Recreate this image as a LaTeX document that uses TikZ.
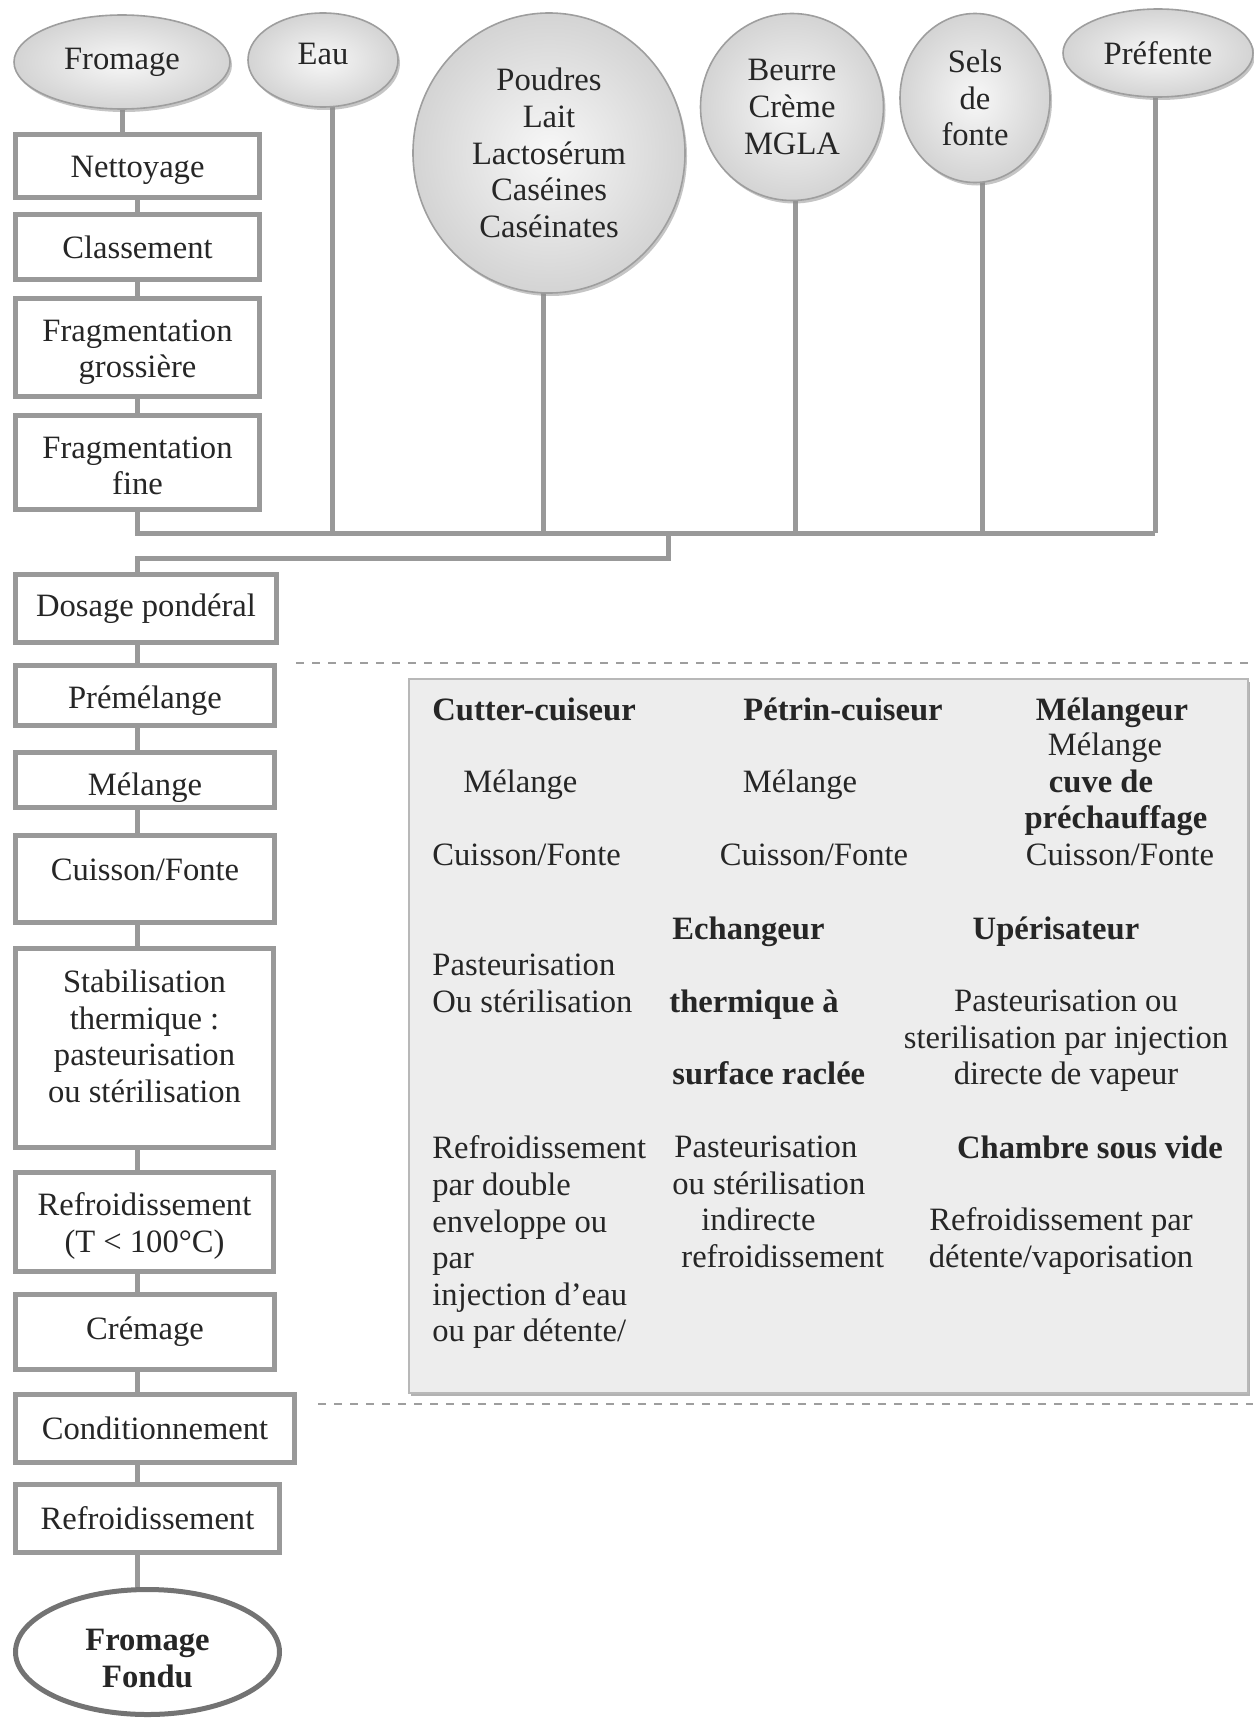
\documentclass[tikz,border=0pt]{standalone}
\usepackage{fontspec}
\setmainfont{Liberation Serif}
\usetikzlibrary{shapes.geometric,backgrounds,shadows}
\newcommand\myfs{\fontsize{16.3}{18.3}\selectfont}
\begin{document}
\begin{tikzpicture}[x=0.5pt,y=-0.5pt,
  every node/.style={font=\myfs, text=black!85},
  box/.style={rectangle, draw=black!40, line width=2.5pt, fill=white, inner sep=0pt, align=center},
  ing/.style={ellipse, draw=black!38, line width=0.8pt, inner color=black!3, outer color=black!17,
    inner sep=0pt, align=center,
    drop shadow={shadow xshift=1pt, shadow yshift=-1.5pt, fill=black!45}},
  fin/.style={ellipse, draw=black!55, line width=2.5pt, fill=white, inner sep=0pt, align=center,
    font=\myfs\bfseries},
  conn/.style={draw=black!40, line width=2.5pt},
  sep/.style={draw=black!38, line width=0.8pt, dash pattern=on 4pt off 4pt},
  tab/.style={rectangle, draw=black!28, line width=0.6pt, fill=black!7, inner sep=0pt,
    drop shadow={shadow xshift=0.8pt, shadow yshift=-1.4pt, fill=black!60}},
  tx/.style={inner sep=0pt},
  tbf/.style={inner sep=0pt, font=\myfs\bfseries},
]
\useasboundingbox (0,0) rectangle (1253,1718);

% ---------- ingredients ----------
\node[ing, minimum width=108pt, minimum height=47pt] (fro) at (122,62) {Fromage};
\node[ing, minimum width=75pt, minimum height=47pt, text depth=6.6pt] (eau) at (323,60) {Eau};
\node[ing, minimum width=136pt, minimum height=140pt] (pou) at (549,153)
  {Poudres\\Lait\\Lactosérum\\Caséines\\Caséinates};
\node[ing, minimum width=91.5pt, minimum height=93.5pt] (beu) at (792,107) {Beurre\\Crème\\MGLA};
\node[ing, minimum width=75pt, minimum height=84.5pt] (sel) at (975,98) {Sels\\de\\fonte};
\node[ing, minimum width=95pt, minimum height=44pt] (pref) at (1158,53) {Préfente};

% ---------- process column ----------
\node[box, minimum width=122pt, minimum height=31.5pt, text height=15.2pt] (net) at (137.5,166) {Nettoyage};
\node[box, minimum width=122pt, minimum height=32.5pt] (cla) at (137.5,247) {Classement};
\node[box, minimum width=122pt, minimum height=49pt, text height=33.8pt] (fgr) at (137.5,347.5) {Fragmentation\\grossière};
\node[box, minimum width=122pt, minimum height=47pt, text height=32.4pt] (ffi) at (137.5,462.5) {Fragmentation\\fine};
\node[box, minimum width=130.5pt, minimum height=34pt] (dos) at (146,608.5) {Dosage pondéral};
\node[box, minimum width=129.5pt, minimum height=30pt, text height=16.6pt] (pre) at (145,695.5) {Prémélange};
\node[box, minimum width=129.5pt, minimum height=27.5pt, text height=18.8pt] (mel) at (145,780) {Mélange};
\node[box, minimum width=129.5pt, minimum height=43.5pt, text depth=9.5pt] (cui) at (145,879) {Cuisson/Fonte};
\node[box, minimum width=129pt, minimum height=99.5pt, text depth=12pt] (sta) at (144.5,1048)
  {Stabilisation\\thermique :\\pasteurisation\\ou stérilisation};
\node[box, minimum width=129pt, minimum height=49.5pt, text height=33.8pt] (rf1) at (144.5,1222) {Refroidissement\\(T < 100°C)};
\node[box, minimum width=129.5pt, minimum height=37.5pt, text depth=4.1pt] (cre) at (145,1332) {Crémage};
\node[box, minimum width=139.5pt, minimum height=34pt] (con) at (155,1428.5) {Conditionnement};
\node[box, minimum width=132pt, minimum height=34pt] (rf2) at (147.5,1518.5) {Refroidissement};
\node[fin, minimum width=132pt, minimum height=62.5pt, text height=35.7pt] (ff) at (147.5,1652) {Fromage\\Fondu};

% ---------- connectors ----------
\coordinate (sp) at (137,0);
\coordinate (bl) at (137,533);
\coordinate (br) at (1155,533);
\coordinate (beau) at (332,533);
\coordinate (bpou) at (543,533);
\coordinate (bbeu) at (795,533);
\coordinate (bsel) at (982,533);
\coordinate (dr) at (668,533);
\coordinate (dr2) at (668,558);
\coordinate (dl) at (137,558);
\begin{scope}[on background layer]
  \draw[conn] (fro.center) -- (fro.center |- net.north);
  \draw[conn] (net.south -| sp) -- (cla.north -| sp);
  \draw[conn] (cla.south -| sp) -- (fgr.north -| sp);
  \draw[conn] (fgr.south -| sp) -- (ffi.north -| sp);
  \draw[conn] (ffi.south -| sp) -- (bl) -- (br);
  \draw[conn] (beau) -- (beau |- eau.center);
  \draw[conn] (bpou) -- (bpou |- pou.center);
  \draw[conn] (bbeu) -- (bbeu |- beu.center);
  \draw[conn] (bsel) -- (bsel |- sel.center);
  \draw[conn] (br) -- (br |- pref.center);
  \draw[conn] (dr) -- (dr2) -- (dl) -- (dos.north -| sp);
  \draw[conn] (dos.south -| sp) -- (pre.north -| sp);
  \draw[conn] (pre.south -| sp) -- (mel.north -| sp);
  \draw[conn] (mel.south -| sp) -- (cui.north -| sp);
  \draw[conn] (cui.south -| sp) -- (sta.north -| sp);
  \draw[conn] (sta.south -| sp) -- (rf1.north -| sp);
  \draw[conn] (rf1.south -| sp) -- (cre.north -| sp);
  \draw[conn] (cre.south -| sp) -- (con.north -| sp);
  \draw[conn] (con.south -| sp) -- (rf2.north -| sp);
  \draw[conn] (rf2.south -| sp) -- (ff.center -| sp);
\end{scope}

% ---------- dashed separators ----------
\coordinate (s1a) at (296,663);
\coordinate (s1b) at (1253,663);
\coordinate (s2a) at (318,1404);
\coordinate (s2b) at (1253,1404);
\draw[sep] (s1a) -- (s1b);
\draw[sep] (s2a) -- (s2b);

% ---------- equipment table ----------
\node[tab, minimum width=419.5pt, minimum height=357pt] (tab) at (828.5,1036) {};

\node[tbf, anchor=base west] (c1h) at (432,720) {Cutter-cuiseur};
\node[tx, anchor=base west] (c1m) at (463,792) {Mélange};
\node[tx, anchor=base west] (c1c) at (432,865) {Cuisson/Fonte};
\node[tx, anchor=north west, align=left] (c1p) at (432,953.5) {Pasteurisation\\Ou stérilisation};
\node[tx, anchor=north west, align=left] (c1r) at (432,1135.5)
  {Refroidissement\\par double\\enveloppe ou\\par\\injection d'eau\\ou par détente/};

\node[tbf, anchor=base] (c2h) at (843,720) {Pétrin-cuiseur};
\node[tx, anchor=base] (c2m) at (800,792) {Mélange};
\node[tx, anchor=base] (c2c) at (814,865) {Cuisson/Fonte};
\node[tbf, anchor=base west] (c2e) at (672,939) {Echangeur};
\node[tbf, anchor=base west] (c2t) at (669,1012) {thermique à};
\node[tbf, anchor=base west] (c2s) at (672,1084) {surface raclée};
\node[tx, anchor=north west, align=left] (c2p) at (672,1135.5)
  {\hspace*{1pt}Pasteurisation\\ou stérilisation\\\hspace*{14.5pt}indirecte\\\hspace*{4.5pt}refroidissement};

\node[tbf, anchor=base] (c3h) at (1112,720) {Mélangeur};
\node[tx, anchor=base] (c3m) at (1105,755) {Mélange};
\node[tbf, anchor=base] (c3v) at (1101,792) {cuve de};
\node[tbf, anchor=base] (c3w) at (1116,828) {préchauffage};
\node[tx, anchor=base] (c3c) at (1120,865) {Cuisson/Fonte};
\node[tbf, anchor=base] (c3u) at (1056,939) {Upérisateur};
\node[tx, anchor=north, align=center] (c3p) at (1066,989.5)
  {Pasteurisation ou\\sterilisation par injection\\directe de vapeur};
\node[tbf, anchor=base] (c3s) at (1090,1158) {Chambre sous vide};
\node[tx, anchor=north, align=center] (c3r) at (1061,1207.5)
  {Refroidissement par\\détente/vaporisation};
\end{tikzpicture}
\end{document}
